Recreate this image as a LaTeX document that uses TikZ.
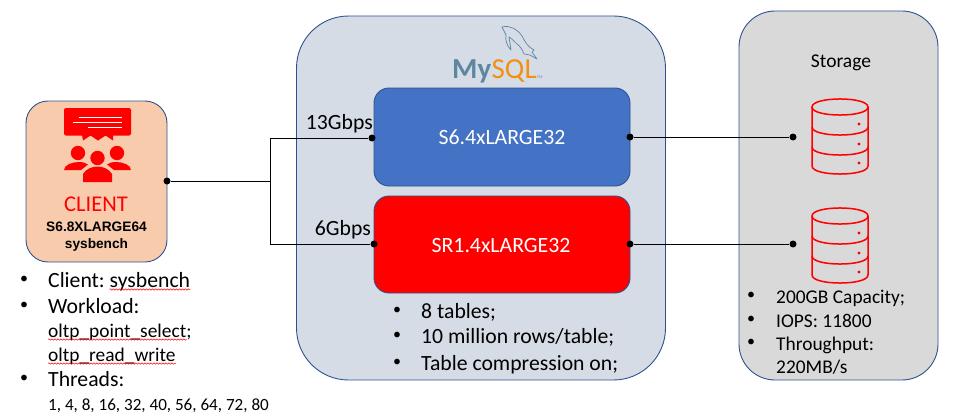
\documentclass[tikz,border=0pt]{standalone}
\usepackage{fontspec}
\setmainfont{Carlito}
\newfontfamily\boldsans{Liberation Sans}
\usepackage{tikz}
\usetikzlibrary{positioning, decorations.pathmorphing}
\definecolor{edge}{HTML}{2F528F}
\definecolor{peach}{HTML}{F8CBAD}
\definecolor{slate}{HTML}{D6DCE5}
\definecolor{silver}{HTML}{D9D9D9}
\definecolor{blu}{HTML}{4472C4}
\definecolor{dolph}{HTML}{5D87A1}
\definecolor{sqlor}{HTML}{F29111}
\tikzset{
box/.style={draw=edge, line width=0.9pt, inner sep=0pt},
dot/.style={circle, fill=black, inner sep=0pt, minimum size=7pt},
wire/.style={line width=1pt, black},
txt/.style={anchor=base west, inner sep=0pt, font=\fontsize{21.7}{21.7}\selectfont},
smalltxt/.style={txt, font=\fontsize{19.4}{19.4}\selectfont},
blt/.style={anchor=center, inner sep=0pt, yshift=7.5pt, font=\fontsize{16}{16}\selectfont},
squig/.style={red, line width=0.5pt, decorate, decoration={snake, amplitude=0.7pt, segment length=3pt}},
db/.style={red, line width=1.5pt}
}
\begin{document}
\begin{tikzpicture}[x=1pt, y=-1pt]
\useasboundingbox (0,0) rectangle (958,420);
% containers
\node[box, fill=peach, rounded corners=22pt, minimum width=141pt, minimum height=161pt] (client) at (96.5,181.5) {};
\node[box, fill=slate, rounded corners=52pt, minimum width=369pt, minimum height=364pt] (mysql) at (481,198) {};
\node[box, fill=silver, rounded corners=36pt, minimum width=199pt, minimum height=369pt] (storage) at (838.5,195.5) {};
\node[box, fill=blu, rounded corners=15pt, minimum width=256pt, minimum height=98pt] (inst64) at (502,137) {};
\node[box, fill=red, rounded corners=15pt, minimum width=256pt, minimum height=97pt] (inst14) at (502,244.5) {};
% client icon
\fill[red, rounded corners=2pt] (64,108) rectangle (131,135.5);
\fill[red] (82,135) -- (113,135) -- (113,140.5) -- (105.5,135.5) -- (98,140.5) -- (90.5,135.5) -- (83,140.5) -- cycle;
\foreach \xa/\xb/\y in {79/122/117, 73/122/122, 88/122/127}{
\draw[white, line width=0.8pt] (\xa,\y) -- (\xb,\y);
}
\foreach \x/\y in {78/153, 97.5/158, 117/153}{
\fill[red] (\x,\y) circle(7.2pt);
}
\fill[red] (64,170) .. controls (64,165) and (72,162) .. (79,162) .. controls (83,162) and (86,163) .. (88,164.5) -- (81,170) -- cycle;
\fill[red] (131,170) .. controls (131,165) and (123,162) .. (116,162) .. controls (112,162) and (109,163) .. (107,164.5) -- (114,170) -- cycle;
\fill[red] (83,182) -- (83,174) .. controls (86,169) and (92,166.5) .. (97.5,166.5) .. controls (103,166.5) and (109,169) .. (112,174) -- (112,182) -- cycle;
% client text
\node[anchor=base, inner sep=0pt, red, font=\fontsize{22.5}{22.5}\selectfont] (cliName) at (96,211) {CLIENT};
\node[anchor=base, inner sep=0pt, font=\boldsans\bfseries\fontsize{13.7}{13.7}\selectfont] (cliType) at (96.5,231) {S6.8XLARGE64};
\node[anchor=base, inner sep=0pt, font=\boldsans\bfseries\fontsize{13.7}{13.7}\selectfont] (cliTool) at (96.5,248) {sysbench};
% client list
\foreach \y in {287,313,386}{
\node[blt] at (24,\y) {•};
}
\node[txt] (cliA) at (48,287) {Client:};
\node[txt, base right=4.5pt of cliA] (cliB) {sysbench};
\node[txt] (cliC) at (48,313) {Workload:};
\node[smalltxt] (cliD) at (48,337) {oltp\_point\_select\rlap{;}};
\node[smalltxt] (cliE) at (48,361) {oltp\_read\_write};
\node[txt] (cliF) at (48,386) {Threads:};
\node[txt, font=\fontsize{17.1}{17.1}\selectfont] (cliG) at (48,410) {1, 4, 8, 16, 32, 40, 56, 64, 72, 80};
\foreach \n in {cliB, cliD, cliE}{
\draw[squig] ([yshift=-2.5pt]\n.base west) -- ([yshift=-2.5pt]\n.base east);
}
% mysql logo
\node[anchor=base west, inner sep=0pt, dolph, font=\bfseries\fontsize{29}{29}\selectfont] (logoA) at (452,78) {My};
\node[anchor=base west, inner sep=0pt, sqlor, font=\fontsize{29}{29}\selectfont] (logoB) at (logoA.base east) {SQL};
\node[anchor=base west, inner sep=0pt, dolph, font=\fontsize{4}{4}\selectfont] at (logoB.base east) {TM};
\draw[dolph, line width=0.7pt, line join=round] (502,27) .. controls (510,25) and (517,29) .. (522,36) .. controls (525,42) and (528,47) .. (534,50) -- (532,52) -- (537,59) -- (530,55) -- (524,54) .. controls (522,49) and (520,46) .. (517,44) .. controls (514,41) and (511,38) .. (509,37) -- (511,50) .. controls (507,46) and (505,40) .. (506,35) -- cycle;
% instance text
\node[anchor=base, inner sep=0pt, white, font=\fontsize{21.8}{21.8}\selectfont] (nameA) at (502,144) {S6.4xLARGE32};
\node[anchor=base, inner sep=0pt, white, font=\fontsize{21.8}{21.8}\selectfont] (nameB) at (501,252) {SR1.4xLARGE32};
\node[txt, anchor=base east] (bwA) at (373,129) {13Gbps};
\node[txt, anchor=base east] (bwB) at (371,235) {6Gbps};
% mysql list
\foreach \y/\txt in {318/{8 tables;}, 343/{10 million rows/table;}, 370/{Table compression on;}}{
\node[blt] at (397,\y) {•};
\node[txt] at (421,\y) {\txt};
}
% storage
\node[anchor=base, inner sep=0pt, font=\fontsize{19.5}{19.5}\selectfont] (storeName) at (841,67) {Storage};
\foreach \y in {99,208}{
\begin{scope}[shift={(812,\y)}]
\draw[db] (0,8) .. controls (0,-2.7) and (56,-2.7) .. (56,8) .. controls (56,18.7) and (0,18.7) .. (0,8) -- cycle;
\draw[db] (0,8) -- (0,67) .. controls (0,77.7) and (56,77.7) .. (56,67) -- (56,8);
\foreach \b in {28,48}{
\draw[db] (0,\b) .. controls (0,\b+10.7) and (56,\b+10.7) .. (56,\b);
}
\foreach \d in {25,45,64}{
\fill[red] (47,\d) circle(1.7pt);
}
\end{scope}
}
\foreach \y/\txt in {303/{200GB Capacity;}, 327/{IOPS: 11800}, 350/{Throughput:}}{
\node[blt] at (751,\y) {•};
\node[smalltxt] at (776,\y) {\txt};
}
\node[smalltxt] (storeD) at (776,373) {220MB/s};
% connectors
\node[dot] (cliOut) at (167,181) {};
\node[dot] (inA) at (372,138) {};
\node[dot] (inB) at (374,244) {};
\node[dot] (outA) at (630,137) {};
\node[dot] (outB) at (630,244) {};
\node[dot] (dbA) at (793,137) {};
\node[dot] (dbB) at (793,244) {};
\coordinate (trunk) at (270,181);
\draw[wire] (cliOut) -- (trunk);
\draw[wire] (trunk) |- (inA);
\draw[wire] (trunk) |- (inB);
\draw[wire] (outA) -- (dbA);
\draw[wire] (outB) -- (dbB);
\end{tikzpicture}
\end{document}
